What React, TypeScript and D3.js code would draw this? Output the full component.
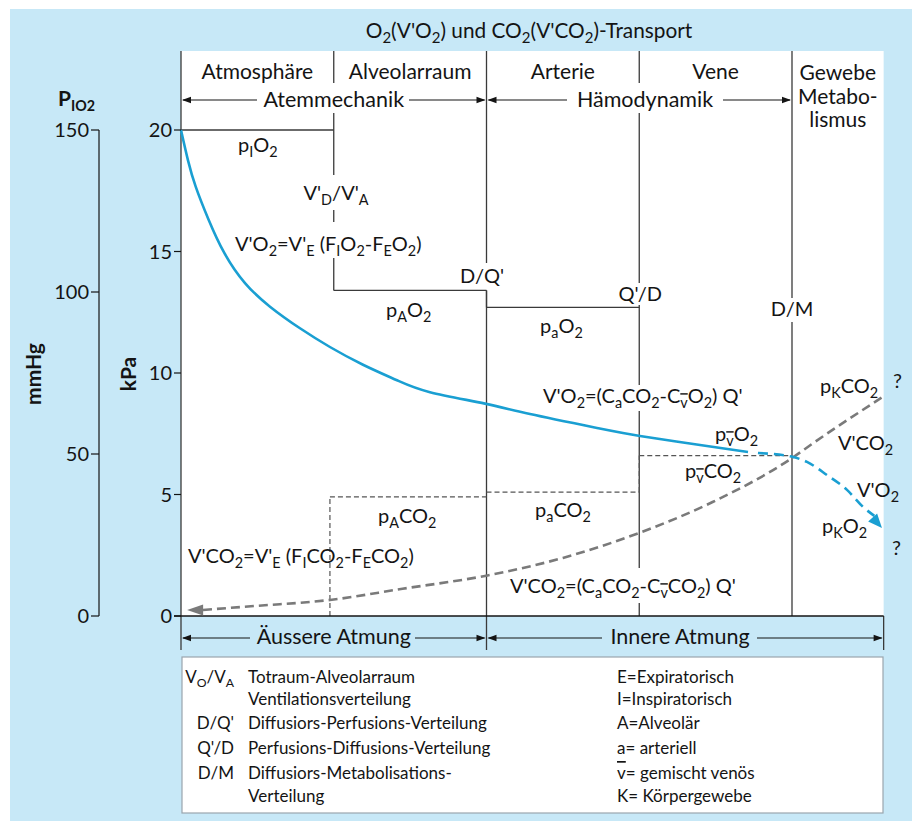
import React from "react";
import * as d3 from "d3";

const FONT = "Lato, 'Open Sans', 'DejaVu Sans', sans-serif";
const BLUE_BG = "#c7e8f7";
const CURVE_BLUE = "#1a9fd2";
const INK = "#141414";
const LINE = "#3a3a3a";

// ---------- data ----------
const kPaTicks = [0, 5, 10, 15, 20];
const mmHgTicks = [0, 50, 100, 150];
const compartments = ["Atmosphäre", "Alveolarraum", "Arterie", "Vene"];
const tissueLabel = ["Gewebe", "Metabo-", "lismus"];
const boundaries = [0, 1, 2, 3, 4];

// pO2 step levels (kPa): inspiratory, alveolar, arterial
const pO2Levels = [20, 13.4, 12.7];
// pCO2 step levels (kPa): alveolar, arterial, mixed venous
const pCO2Levels = [4.9, 5.1, 6.6];
const pACO2Start = 0.975;

// O2 partial pressure cascade (compartment position, kPa)
const o2Solid: [number, number][] = [
  [0, 20.0], [0.0458, 18.75], [0.0962, 17.67], [0.1787, 16.34], [0.2835, 14.94],
  [0.419, 13.7], [0.5827, 12.73], [0.779, 11.84], [0.975, 11.07], [1.1915, 10.34],
  [1.414, 9.7], [1.63, 9.21], [1.99, 8.74], [2.285, 8.31], [2.723, 7.74],
  [3.005, 7.41], [3.398, 7.04], [3.712, 6.75],
];
const o2Dashed: [number, number][] = [
  [3.777, 6.71], [4.007, 6.54], [4.098, 6.34], [4.229, 5.8], [4.36, 5.19],
  [4.465, 4.49], [4.589, 3.62],
];
// CO2 partial pressure (compartment position, kPa)
const co2Curve: [number, number][] = [
  [0.04, 0.25], [0.144, 0.25], [0.5, 0.42], [0.975, 0.66], [1.45, 1.12],
  [1.99, 1.65], [2.5, 2.39], [3.0, 3.42], [3.48, 4.69], [4.0, 6.5],
  [4.14, 7.12], [4.59, 9.0],
];

const legendAbbr = ["V_{O}/V_{A}", "", "D/Q'", "Q'/D", "D/M", ""];
const legendDesc = [
  "Totraum-Alveolarraum",
  "Ventilationsverteilung",
  "Diffusiors-Perfusions-Verteilung",
  "Perfusions-Diffusions-Verteilung",
  "Diffusiors-Metabolisations-",
  "Verteilung",
];
const legendRight = [
  "E=Expiratorisch",
  "I=Inspiratorisch",
  "A=Alveolär",
  "a= arteriell",
  "!{v}= gemischt venös",
  "K= Körpergewebe",
];

// ---------- scales ----------
const x = d3.scaleLinear().domain([0, 4.6]).range([181, 883.65]);
const yK = d3.scaleLinear().domain([0, 20]).range([616, 130]);
const yM = d3.scaleLinear().domain([0, 150]).range([616, 130]);

type Part = { t: string; sub: boolean; over: boolean };
function parse(s: string): Part[] {
  const out: Part[] = [];
  const re = /(_\{[^}]*\}|!\{[^}]*\})/g;
  let last = 0;
  let m: RegExpExecArray | null;
  while ((m = re.exec(s))) {
    if (m.index > last) out.push({ t: s.slice(last, m.index), sub: false, over: false });
    const tok = m[0];
    if (tok[0] === "_") {
      let inner = tok.slice(2, -1);
      let over = false;
      if (inner[0] === "!") { over = true; inner = inner.slice(1); }
      out.push({ t: inner, sub: true, over });
    } else {
      out.push({ t: tok.slice(2, -1), sub: false, over: true });
    }
    last = re.lastIndex;
  }
  if (last < s.length) out.push({ t: s.slice(last), sub: false, over: false });
  return out;
}

function Rich(props: {
  x: number; y: number; s: string; size?: number; anchor?: string;
  weight?: string | number; fill?: string; transform?: string; subScale?: number;
}) {
  const size = props.size ?? 20;
  const subSize = size * (props.subScale ?? 0.72);
  const shift = size * 0.26;
  let cur = 0;
  const parts = parse(props.s);
  return (
    <text
      x={props.x}
      y={props.y}
      fontSize={size}
      fontFamily={FONT}
      fontWeight={props.weight ?? 400}
      textAnchor={props.anchor ?? "start"}
      fill={props.fill ?? INK}
      transform={props.transform}
    >
      {parts.map((p, i) => {
        const target = p.sub ? shift : 0;
        const dy = target - cur;
        cur = target;
        return (
          <tspan
            key={i}
            dy={dy !== 0 ? dy : undefined}
            fontSize={p.sub ? subSize : undefined}
            style={p.over ? { textDecoration: "overline" } : undefined}
          >
            {p.t}
          </tspan>
        );
      })}
    </text>
  );
}

function arrowHead(tx: number, ty: number, dir: number, len = 9, hw = 3.2) {
  return `M${tx},${ty} L${tx - dir * len},${ty - hw} L${tx - dir * len},${ty + hw} Z`;
}

function DoubleArrow(props: { y: number; x0: number; x1: number; g0: number; g1: number }) {
  const { y, x0, x1, g0, g1 } = props;
  return (
    <g>
      <line x1={x0 + 2} y1={y} x2={g0} y2={y} stroke={INK} strokeWidth={1.2} />
      <line x1={g1} y1={y} x2={x1 - 2} y2={y} stroke={INK} strokeWidth={1.2} />
      <path d={arrowHead(x0 + 1, y, -1)} fill={INK} />
      <path d={arrowHead(x1 - 1, y, 1)} fill={INK} />
    </g>
  );
}

export default function App() {
  const lg = d3
    .line<[number, number]>()
    .x((d) => x(d[0]))
    .y((d) => yK(d[1]))
    .curve(d3.curveMonotoneX);
  const lgSmooth = d3
    .line<[number, number]>()
    .x((d) => x(d[0]))
    .y((d) => yK(d[1]))
    .curve(d3.curveNatural);

  // blue arrow head
  const bA = o2Dashed[o2Dashed.length - 2];
  const bB = o2Dashed[o2Dashed.length - 1];
  const bx1 = x(bB[0]), by1 = yK(bB[1]);
  const bdx = bx1 - x(bA[0]), bdy = by1 - yK(bA[1]);
  const bl = Math.hypot(bdx, bdy);
  const ux = bdx / bl, uy = bdy / bl;
  const bLen = 14, bHw = 6;
  const blueHead = `M${bx1},${by1} L${bx1 - ux * bLen - uy * bHw},${by1 - uy * bLen + ux * bHw} L${bx1 - ux * bLen + uy * bHw},${by1 - uy * bLen - ux * bHw} Z`;
  const dashedTrim = o2Dashed.slice(0, -1).concat([[bB[0] - 0.05, bB[1] + 0.5]]);

  // gray arrow head (pointing left)
  const g0 = co2Curve[0];
  const gx = x(g0[0]), gy = yK(g0[1]);
  const grayHead = `M${gx},${gy} L${gx + 16},${gy - 5.5} L${gx + 16},${gy + 5.5} Z`;

  // section divider line segments (pixel gaps around labels)
  const xb = boundaries.map((b) => x(b));
  const dividerSegs: [number, number, number][] = [
    [xb[0], 51, 650],
    [xb[1], 51, 83], [xb[1], 113, 175], [xb[1], 210, 222], [xb[1], 258, yK(pO2Levels[1])],
    [xb[2], 51, 263], [xb[2], yK(pO2Levels[1]), 650],
    [xb[3], 51, 83], [xb[3], 113, 283], [xb[3], 305, 385], [xb[3], 411, 568], [xb[3], 603, 616],
    [xb[4], 51, 298], [xb[4], 322, 616],
  ];

  const legendRows = [683, 705, 729, 754, 779, 802];

  return (
    <svg
      width={912}
      height={821}
      style={{ position: "absolute", left: 0, top: 0, display: "block" }}
      fontFamily={FONT}
    >
      <rect x={0} y={0} width={912} height={821} fill="#ffffff" />
      <rect x={10} y={9} width={902} height={812} fill={BLUE_BG} />
      {/* plot area */}
      <rect x={x(0)} y={51} width={x(4.6) - x(0)} height={yK(0) - 51} fill="#ffffff" />
      {/* legend box */}
      <rect x={182} y={657} width={701} height={156} fill="#ffffff" stroke="#9aa5ad" strokeWidth={1.2} />

      {/* title */}
      <Rich x={529} y={38} s="O_{2}(V'O_{2}) und CO_{2}(V'CO_{2})-Transport" size={20.8} anchor="middle" />

      {/* compartment headers */}
      {compartments.map((c, i) => (
        <text key={c} x={x(i + 0.5)} y={79} fontSize={21} textAnchor="middle" fill={INK}>
          {c}
        </text>
      ))}
      {tissueLabel.map((t, i) => (
        <text key={t} x={(x(4) + x(4.6)) / 2} y={80 + i * 23.5} fontSize={21} textAnchor="middle" fill={INK}>
          {t}
        </text>
      ))}

      {/* header arrows */}
      <DoubleArrow y={100} x0={x(0)} x1={x(2)} g0={257} g1={409} />
      <text x={x(1)} y={107} fontSize={21.5} textAnchor="middle" fill={INK}>Atemmechanik</text>
      <DoubleArrow y={100} x0={x(2)} x1={x(4)} g0={567} g1={723} />
      <text x={645} y={107} fontSize={21.5} textAnchor="middle" fill={INK}>Hämodynamik</text>

      {/* dividers */}
      {dividerSegs.map((s, i) => (
        <line key={i} x1={s[0]} x2={s[0]} y1={s[1]} y2={s[2]} stroke={LINE} strokeWidth={1.3} />
      ))}
      {/* bottom strip right line */}
      <line x1={x(4.6)} x2={x(4.6)} y1={yK(0)} y2={650} stroke={LINE} strokeWidth={1.3} />

      {/* pO2 steps */}
      {pO2Levels.map((v, i) => (
        <line key={"po" + i} x1={x(i)} x2={x(i + 1)} y1={yK(v)} y2={yK(v)} stroke={LINE} strokeWidth={1.3} />
      ))}
      <line x1={x(2)} x2={x(2)} y1={yK(pO2Levels[1])} y2={yK(pO2Levels[2])} stroke={LINE} strokeWidth={1.3} />

      {/* pCO2 dashed steps */}
      <line x1={x(pACO2Start)} x2={x(pACO2Start)} y1={yK(0)} y2={yK(pCO2Levels[0])} stroke="#555" strokeWidth={1.2} strokeDasharray="5,3" />
      <line x1={x(pACO2Start)} x2={x(2)} y1={yK(pCO2Levels[0])} y2={yK(pCO2Levels[0])} stroke="#555" strokeWidth={1.2} strokeDasharray="5,3" />
      <line x1={x(2)} x2={x(3)} y1={yK(pCO2Levels[1])} y2={yK(pCO2Levels[1])} stroke="#555" strokeWidth={1.2} strokeDasharray="5,3" />
      <line x1={x(3)} x2={x(3)} y1={yK(pCO2Levels[1])} y2={yK(pCO2Levels[2])} stroke="#555" strokeWidth={1.2} strokeDasharray="5,3" />
      <line x1={x(3)} x2={x(4)} y1={yK(pCO2Levels[2])} y2={yK(pCO2Levels[2])} stroke="#555" strokeWidth={1.2} strokeDasharray="5,3" />

      {/* baseline */}
      <line x1={174} x2={x(4.6)} y1={yK(0)} y2={yK(0)} stroke={INK} strokeWidth={1.3} />

      {/* CO2 curve */}
      <path d={lg(co2Curve.slice(1)) || ""} fill="none" stroke="#7a7a7a" strokeWidth={2.6} strokeDasharray="9,5" />
      <line x1={gx + 10} x2={x(co2Curve[1][0])} y1={gy} y2={yK(co2Curve[1][1])} stroke="#7a7a7a" strokeWidth={2.6} />
      <path d={grayHead} fill="#7a7a7a" />

      {/* O2 curve */}
      <path d={lgSmooth(o2Solid) || ""} fill="none" stroke={CURVE_BLUE} strokeWidth={2.6} />
      <path d={lg(dashedTrim as [number, number][]) || ""} fill="none" stroke={CURVE_BLUE} strokeWidth={2.6} strokeDasharray="10,6" />
      <path d={blueHead} fill={CURVE_BLUE} />

      {/* kPa axis */}
      {kPaTicks.map((t) => (
        <g key={"k" + t}>
          <line x1={174} x2={x(0)} y1={yK(t)} y2={yK(t)} stroke={INK} strokeWidth={1.2} />
          <text x={172} y={yK(t) + 7} fontSize={20} textAnchor="end" fill={INK}>{t}</text>
        </g>
      ))}
      {/* mmHg axis */}
      <line x1={99} x2={99} y1={yM(0)} y2={yM(150)} stroke={INK} strokeWidth={1.2} />
      {mmHgTicks.map((t) => (
        <g key={"m" + t}>
          <line x1={91} x2={99} y1={yM(t)} y2={yM(t)} stroke={INK} strokeWidth={1.2} />
          <text x={89} y={yM(t) + 7} fontSize={20} textAnchor="end" fill={INK}>{t}</text>
        </g>
      ))}
      <Rich x={58} y={106} s="P_{IO2}" size={21} weight={700} subScale={0.68} />
      <text transform="translate(41,374) rotate(-90)" fontSize={21} fontWeight={700} textAnchor="middle" fill={INK}>mmHg</text>
      <text transform="translate(136,374) rotate(-90)" fontSize={21} fontWeight={700} textAnchor="middle" fill={INK}>kPa</text>

      {/* plot annotations */}
      <Rich x={238} y={152} s="p_{I}O_{2}" />
      <Rich x={336} y={200} s="V'_{D}/V'_{A}" anchor="middle" />
      <Rich x={235} y={251} s="V'O_{2}=V'_{E} (F_{I}O_{2}-F_{E}O_{2})" />
      <Rich x={504} y={283} s="D/Q'" anchor="end" />
      <Rich x={386} y={317} s="p_{A}O_{2}" />
      <Rich x={x(3) + 1} y={301} s="Q'/D" anchor="middle" />
      <Rich x={540} y={333} s="p_{a}O_{2}" />
      <Rich x={x(4)} y={316} s="D/M" anchor="middle" />
      <Rich x={543} y={403} s="V'O_{2}=(C_{a}CO_{2}-C_{!v}O_{2}) Q'" />
      <Rich x={820} y={393} s="p_{K}CO_{2}" />
      <Rich x={893} y={388} s="?" />
      <Rich x={715} y={441} s="p_{!v}O_{2}" />
      <Rich x={838} y={450} s="V'CO_{2}" />
      <Rich x={685} y={478} s="p_{!v}CO_{2}" />
      <Rich x={857} y={497} s="V'O_{2}" />
      <Rich x={822} y={533} s="p_{K}O_{2}" />
      <Rich x={892} y={555} s="?" />
      <Rich x={535} y={517} s="p_{a}CO_{2}" />
      <Rich x={378} y={523} s="p_{A}CO_{2}" />
      <Rich x={188} y={563} s="V'CO_{2}=V'_{E} (F_{I}CO_{2}-F_{E}CO_{2})" />
      <Rich x={510} y={593} s="V'CO_{2}=(C_{a}CO_{2}-C_{!v}CO_{2}) Q'" />

      {/* bottom strip */}
      <DoubleArrow y={638} x0={x(0)} x1={x(2)} g0={250} g1={415} />
      <text x={x(1)} y={644} fontSize={21.5} textAnchor="middle" fill={INK}>Äussere Atmung</text>
      <DoubleArrow y={638} x0={x(2)} x1={x(4.6)} g0={602} g1={757} />
      <text x={680} y={644} fontSize={21.5} textAnchor="middle" fill={INK}>Innere Atmung</text>

      {/* legend */}
      {legendAbbr.map((a, i) =>
        a ? <Rich key={"la" + i} x={234} y={legendRows[i]} s={a} size={17} anchor="end" /> : null
      )}
      {legendDesc.map((d, i) => (
        <Rich key={"ld" + i} x={248} y={legendRows[i]} s={d} size={17} />
      ))}
      {legendRight.map((d, i) => (
        <Rich key={"lr" + i} x={617} y={legendRows[i]} s={d} size={17} />
      ))}
    </svg>
  );
}
